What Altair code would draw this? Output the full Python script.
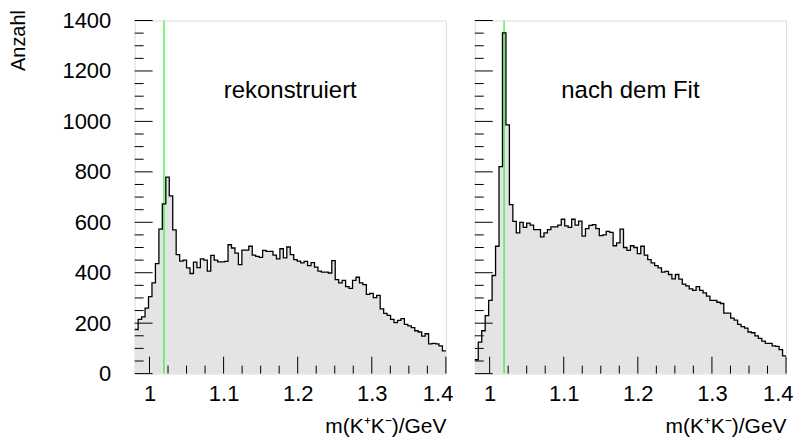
import altair as alt
import pandas as pd

# ---- data -----------------------------------------------------------------
x_min, x_max, n_bins = 0.98, 1.40, 90

left_counts = [
    175, 215, 225, 260, 305, 360, 436, 573, 673, 779,
    705, 570, 472, 446, 450, 419, 397, 442, 420, 455,
    450, 406, 469, 450, 443, 443, 445, 511, 498, 478,
    432, 490, 490, 505, 470, 465, 461, 489, 485, 485,
    470, 455, 495, 459, 502, 472, 452, 446, 439, 445,
    428, 440, 422, 406, 402, 402, 399, 448, 373, 360,
    370, 345, 338, 370, 382, 360, 353, 314, 318, 301,
    310, 257, 239, 231, 215, 202, 211, 218, 195, 189,
    182, 170, 165, 149, 158, 118, 120, 118, 110, 90,
]

right_counts = [
    55, 125, 170, 230, 290, 389, 505, 821, 1351, 986,
    670, 604, 558, 600, 580, 597, 589, 571, 571, 542,
    558, 571, 582, 582, 589, 612, 586, 580, 612, 589,
    605, 545, 575, 588, 591, 575, 547, 550, 564, 560,
    507, 518, 573, 500, 489, 507, 500, 476, 505, 470,
    452, 439, 428, 419, 402, 405, 393, 376, 393, 375,
    355, 348, 336, 330, 345, 330, 320, 307, 290, 290,
    283, 278, 240, 240, 220, 212, 195, 186, 180, 165,
    162, 150, 140, 129, 120, 120, 110, 108, 95, 70,
]

phi_mass = 1.0195
panel_labels = ["rekonstruiert", "nach dem Fit"]
label_pos = [1.19, 1120]
x_title = "m(K⁺K⁻)/GeV"
y_title = "Anzahl"
y_major = [0, 200, 400, 600, 800, 1000, 1200, 1400]
y_minor = [v for v in range(50, 1400, 50) if v % 200 != 0]
x_major = [1.0, 1.1, 1.2, 1.3, 1.4]
x_minor = [1.025, 1.05, 1.075, 1.125, 1.15, 1.175, 1.225, 1.25, 1.275,
           1.325, 1.35, 1.375]

# ---- layout / style -------------------------------------------------------
W, H = 312, 354
FONT = "Liberation Sans"
FS = 22

xs = alt.Scale(domain=[x_min, x_max], nice=False, zero=False)
ys = alt.Scale(domain=[0, 1400], nice=False)


def step_frame(counts):
    edges = [x_min + (x_max - x_min) * k / n_bins for k in range(n_bins + 1)]
    return pd.DataFrame({"x": edges, "y": list(counts) + [counts[-1]]})


def panel(counts, label, first):
    df = step_frame(counts)
    x_axis = alt.Axis(
        values=x_major, format="~g", ticks=False, domain=False, grid=False,
        labelFontSize=FS, labelFont=FONT, labelPadding=10, labelColor="black",
        labelFlush=True, labelFlushOffset=7,
        title=x_title, titleFont=FONT, titleFontSize=21, titleFontWeight="normal",
        titleColor="black", titleAnchor="end", titleBaseline="bottom", titleY=63,
    )
    if first:
        y_axis = alt.Axis(
            values=y_major, format="d", ticks=False, domain=False, grid=False,
            labelFontSize=FS, labelFont=FONT, labelPadding=24, labelColor="black",
            title=y_title, titleFont=FONT, titleFontSize=20, titleFontWeight="normal",
            titleColor="black", titleAngle=270, titleAlign="right",
            titleBaseline="middle", titleX=-116, titleY=-11,
        )
    else:
        y_axis = None

    area = alt.Chart(df).mark_area(
        interpolate="step-after", color="#e4e4e4"
    ).encode(
        x=alt.X("x:Q", scale=xs, axis=x_axis),
        y=alt.Y("y:Q", scale=ys, axis=y_axis),
    )
    green = alt.Chart(pd.DataFrame({"x": [phi_mass]})).mark_rule(
        color="#2ef02e", strokeWidth=1.2
    ).encode(x=alt.X("x:Q", scale=xs))
    outline = alt.Chart(df).mark_line(
        interpolate="step-after", color="black", strokeWidth=1.3
    ).encode(x=alt.X("x:Q", scale=xs), y=alt.Y("y:Q", scale=ys))

    ymaj = alt.Chart(pd.DataFrame({"v": y_major})).mark_rule(
        color="black", strokeWidth=1
    ).encode(y=alt.Y("v:Q", scale=ys), x=alt.value(0), x2=alt.value(18))
    ymin = alt.Chart(pd.DataFrame({"v": y_minor})).mark_rule(
        color="black", strokeWidth=1
    ).encode(y=alt.Y("v:Q", scale=ys), x=alt.value(0), x2=alt.value(9))
    xmaj = alt.Chart(pd.DataFrame({"v": x_major})).mark_rule(
        color="black", strokeWidth=1
    ).encode(x=alt.X("v:Q", scale=xs), y=alt.value(H), y2=alt.value(H - 17))
    xmin = alt.Chart(pd.DataFrame({"v": x_minor})).mark_rule(
        color="black", strokeWidth=1
    ).encode(x=alt.X("v:Q", scale=xs), y=alt.value(H), y2=alt.value(H - 8))

    txt = alt.Chart(pd.DataFrame({"x": [label_pos[0]], "y": [label_pos[1]], "t": [label]})).mark_text(
        font=FONT, fontSize=24, color="black", align="center", baseline="middle"
    ).encode(x=alt.X("x:Q", scale=xs), y=alt.Y("y:Q", scale=ys), text="t:N")

    return alt.layer(area, green, outline, ymaj, ymin, xmaj, xmin, txt).properties(
        width=W, height=H
    )


chart = alt.hconcat(
    panel(left_counts, panel_labels[0], True),
    panel(right_counts, panel_labels[1], False),
    spacing=29,
    bounds="flush",
).properties(
    padding={"left": 0, "top": 0, "right": 0, "bottom": 0}
).configure_view(
    stroke="black", strokeWidth=1.5
).configure(background="white")

chart.save("out.html", embed_options={"renderer": "svg", "actions": False})
